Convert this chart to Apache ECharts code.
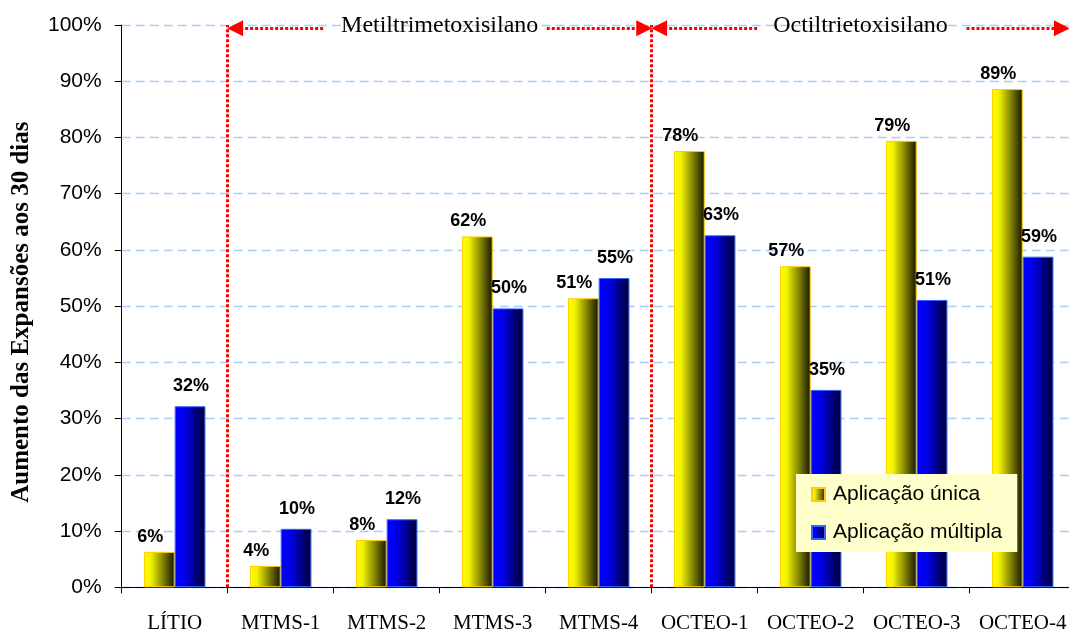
<!DOCTYPE html>
<html>
<head>
<meta charset="utf-8">
<script src="https://cdn.jsdelivr.net/npm/echarts@6/dist/echarts.min.js"></script>
<style>
  html, body { margin: 0; padding: 0; background: #fff; }
  #chart { width: 1069px; height: 634px; }
</style>
</head>
<body>
<div id="chart"></div>
<script>
// Treatments along the x axis
const categories = ['LÍTIO', 'MTMS-1', 'MTMS-2', 'MTMS-3', 'MTMS-4', 'OCTEO-1', 'OCTEO-2', 'OCTEO-3', 'OCTEO-4'];

// Expansion increase at 30 days (%)
const singleApplication = [6.3, 3.8, 8.4, 62.4, 51.4, 77.6, 57.1, 79.4, 88.6];
const multipleApplication = [32.2, 10.4, 12.1, 49.6, 55.0, 62.6, 35.1, 51.1, 58.8];

const seriesNames = ['Aplicação única', 'Aplicação múltipla'];
const groupNames = ['Metiltrimetoxisilano', 'Octiltrietoxisilano'];

const serif = '"Liberation Serif", "Times New Roman", serif';
const sans = '"Liberation Sans", Arial, sans-serif';

const yellowFill = new echarts.graphic.LinearGradient(0, 0, 1, 0, [
  { offset: 0, color: '#ffff00' },
  { offset: 0.22, color: '#f4f400' },
  { offset: 1, color: '#151500' }
]);
const blueFill = new echarts.graphic.LinearGradient(0, 0, 1, 0, [
  { offset: 0, color: '#0000ff' },
  { offset: 0.3, color: '#0000ee' },
  { offset: 1, color: '#000030' }
]);

const pctLabel = (offset) => ({
  show: true,
  position: 'top',
  distance: 5,
  offset: offset,
  fontFamily: sans,
  fontWeight: 'bold',
  fontSize: 18,
  color: '#000',
  formatter: (p) => Math.round(p.value) + '%'
});

// Red dotted group brackets, in units of the hidden 0..9 category-span axis
const red = '#ff0000';
const arrowY = 99.4;
const tri = { symbol: 'triangle', symbolSize: [16, 16] };
const bracketLines = [
  [{ coord: [1, 0] }, { coord: [1, 100] }],
  [{ coord: [5, 0] }, { coord: [5, 100] }],
  [Object.assign({ coord: [1.07, arrowY] }, tri), { coord: [1.9, arrowY] }],
  [{ coord: [4.01, arrowY] }, Object.assign({ coord: [4.93, arrowY] }, tri)],
  [Object.assign({ coord: [5.07, arrowY] }, tri), { coord: [6.0, arrowY] }],
  [{ coord: [7.97, arrowY] }, Object.assign({ coord: [8.87, arrowY] }, tri)]
];

const chart = echarts.init(document.getElementById('chart'), null, { renderer: 'canvas' });

chart.setOption({
  backgroundColor: '#ffffff',
  animation: false,
  grid: {
    left: 121.7,
    right: -6.7,
    top: 25,
    bottom: 46.7,
    containLabel: false,
    outerBoundsMode: 'none'
  },
  legend: {
    orient: 'vertical',
    left: 796,
    top: 474,
    data: seriesNames,
    icon: 'rect',
    itemWidth: 13,
    itemHeight: 13,
    itemGap: 17,
    padding: [10, 15, 9, 15],
    backgroundColor: '#ffffcc',
    textStyle: {
      fontFamily: sans,
      fontSize: 21,
      lineHeight: 20,
      color: '#000',
      padding: [0, 0, 0, 3]
    }
  },
  xAxis: [
    {
      type: 'category',
      data: categories,
      axisLine: { show: true, lineStyle: { color: '#000', width: 1 } },
      axisTick: { show: true, length: 6, lineStyle: { color: '#000' } },
      axisLabel: {
        interval: 0,
        margin: 26,
        fontFamily: serif,
        fontSize: 21,
        color: '#000'
      },
      splitLine: { show: false }
    },
    {
      type: 'value',
      min: 0,
      max: 9,
      show: false
    }
  ],
  yAxis: {
    type: 'value',
    min: 0,
    max: 100,
    interval: 10,
    name: 'Aumento das Expansões aos 30 dias',
    nameLocation: 'middle',
    nameGap: 88,
    nameTextStyle: {
      fontFamily: serif,
      fontWeight: 'bold',
      fontSize: 25,
      color: '#000',
      padding: [0, 12, 0, 0]
    },
    axisLine: { show: true, lineStyle: { color: '#000', width: 1 } },
    axisTick: { show: true, length: 7, lineStyle: { color: '#000' } },
    axisLabel: {
      margin: 20,
      fontFamily: sans,
      fontSize: 21,
      color: '#000',
      formatter: '{value}%'
    },
    splitLine: {
      show: true,
      lineStyle: { color: '#a9cff7', width: 1.3, type: [9, 5] }
    }
  },
  series: [
    {
      name: seriesNames[0],
      type: 'bar',
      data: singleApplication,
      barGap: '0%',
      barCategoryGap: '42%',
      itemStyle: { color: yellowFill, borderColor: '#ffcc00', borderWidth: 1 },
      label: pctLabel([-9, -1])
    },
    {
      name: seriesNames[1],
      type: 'bar',
      data: multipleApplication,
      itemStyle: { color: blueFill, borderColor: '#3366ff', borderWidth: 1 },
      label: pctLabel([1, -6])
    },
    {
      name: 'grupos',
      type: 'line',
      xAxisIndex: 1,
      yAxisIndex: 0,
      data: [],
      clip: false,
      silent: true,
      markLine: {
        silent: true,
        symbol: ['none', 'none'],
        label: { show: false },
        lineStyle: { color: red, width: 3, type: [3, 2] },
        emphasis: { disabled: true },
        itemStyle: { color: red },
        data: bracketLines
      },
      markPoint: {
        silent: true,
        symbol: 'rect',
        symbolSize: 1,
        itemStyle: { color: 'rgba(0,0,0,0)' },
        label: {
          show: true,
          position: 'inside',
          formatter: '{b}',
          fontFamily: serif,
          fontSize: 24,
          color: '#000'
        },
        data: [
          { name: groupNames[0], coord: [3.0, 99.8] },
          { name: groupNames[1], coord: [6.97, 99.8] }
        ]
      }
    }
  ]
});
</script>
</body>
</html>
